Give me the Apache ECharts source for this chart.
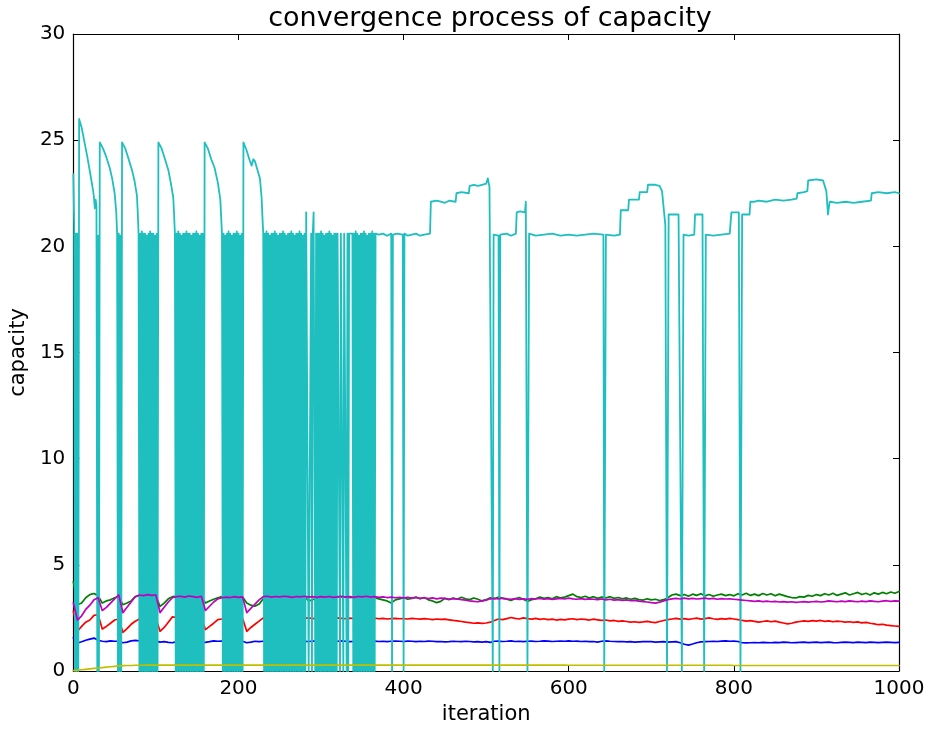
<!DOCTYPE html>
<html>
<head>
<meta charset="utf-8">
<script src="https://cdn.jsdelivr.net/npm/echarts@6/dist/echarts.min.js"></script>
<style>
html,body{margin:0;padding:0;background:#fff;}
#chart{width:930px;height:730px;}
</style>
</head>
<body>
<div id="chart"></div>
<script>
var titleText = 'convergence process of capacity';
var xName = 'iteration';
var yName = 'capacity';
var xTicks = [0, 200, 400, 600, 800, 1000];
var yTicks = [0, 5, 10, 15, 20, 25, 30];
var step = 5; // lower series sampled every 5 iterations, starting at 0

var blueVals = [
1.56,1.32,1.38,1.45,1.50,1.55,1.45,1.40,1.38,1.42,1.40,1.40,1.33,1.36,1.42,1.44,1.42,1.43,1.41,1.42,
1.42,1.36,1.38,1.35,1.33,1.38,1.37,1.39,1.38,1.37,1.38,1.36,1.35,1.38,1.42,1.40,1.41,1.40,1.42,1.40,
1.41,1.40,1.33,1.36,1.40,1.38,1.40,1.41,1.39,1.40,1.38,1.40,1.39,1.41,1.40,1.38,1.40,1.39,1.41,1.40,
1.38,1.40,1.41,1.39,1.40,1.42,1.40,1.38,1.39,1.41,1.40,1.38,1.40,1.41,1.39,1.40,1.38,1.40,1.41,1.40,
1.39,1.41,1.40,1.38,1.40,1.39,1.41,1.40,1.38,1.39,1.37,1.38,1.40,1.39,1.38,1.40,1.39,1.37,1.38,1.36,
1.38,1.35,1.40,1.41,1.39,1.40,1.42,1.39,1.40,1.38,1.40,1.41,1.39,1.40,1.42,1.41,1.39,1.40,1.41,1.40,
1.42,1.40,1.41,1.39,1.40,1.38,1.39,1.36,1.40,1.42,1.40,1.39,1.38,1.39,1.37,1.38,1.36,1.37,1.38,1.39,
1.38,1.36,1.37,1.38,1.36,1.37,1.38,1.33,1.26,1.22,1.27,1.33,1.37,1.38,1.39,1.40,1.39,1.41,1.42,1.40,
1.41,1.39,1.33,1.32,1.33,1.34,1.33,1.35,1.34,1.33,1.35,1.34,1.36,1.35,1.33,1.34,1.35,1.36,1.34,1.35,
1.36,1.34,1.35,1.36,1.34,1.33,1.35,1.36,1.35,1.34,1.36,1.35,1.34,1.36,1.35,1.34,1.35,1.36,1.35,1.34,
1.35];

var greenVals = [
4.20,3.12,3.20,3.45,3.60,3.65,3.55,3.20,3.30,3.35,3.45,3.50,3.12,3.20,3.30,3.50,3.55,3.54,3.56,3.55,
3.55,3.04,3.20,3.40,3.50,3.52,3.50,3.51,3.50,3.52,3.50,3.51,3.20,3.30,3.38,3.45,3.50,3.49,3.51,3.50,
3.50,3.48,3.20,3.10,3.05,3.15,3.40,3.48,3.50,3.49,3.50,3.51,3.50,3.49,3.50,3.48,3.50,3.30,3.35,3.45,
3.48,3.50,3.49,3.47,3.50,3.48,3.49,3.46,3.48,3.47,3.45,3.48,3.46,3.45,3.40,3.35,3.30,3.20,3.35,3.40,
3.45,3.38,3.42,3.48,3.40,3.46,3.35,3.30,3.22,3.28,3.42,3.36,3.44,3.38,3.47,3.40,3.36,3.44,3.38,3.30,
3.36,3.45,3.40,3.48,3.42,3.38,3.32,3.40,3.46,3.38,3.28,3.36,3.40,3.48,3.42,3.46,3.40,3.50,3.44,3.48,
3.55,3.62,3.50,3.46,3.52,3.44,3.50,3.42,3.48,3.44,3.50,3.42,3.46,3.40,3.44,3.38,3.42,3.36,3.34,3.40,
3.35,3.38,3.32,3.36,3.45,3.58,3.62,3.55,3.60,3.52,3.62,3.56,3.64,3.54,3.60,3.52,3.58,3.62,3.55,3.60,
3.54,3.64,3.58,3.66,3.56,3.62,3.55,3.65,3.58,3.64,3.54,3.62,3.56,3.50,3.46,3.44,3.50,3.48,3.56,3.52,
3.60,3.55,3.64,3.58,3.66,3.56,3.62,3.68,3.58,3.64,3.70,3.60,3.66,3.58,3.68,3.62,3.70,3.64,3.72,3.66,
3.74];

var redVals = [
2.81,1.87,2.10,2.30,2.40,2.62,2.65,1.98,2.10,2.25,2.40,2.45,1.82,2.00,2.20,2.34,2.45,2.46,2.48,2.47,
2.48,1.87,2.05,2.30,2.55,2.52,2.50,2.51,2.50,2.49,2.50,2.51,1.95,2.10,2.25,2.42,2.45,2.46,2.45,2.47,
2.46,2.47,1.87,2.05,2.20,2.35,2.50,2.48,2.50,2.49,2.50,2.48,2.50,2.51,2.49,2.50,2.48,2.50,2.47,2.49,
2.50,2.48,2.49,2.47,2.50,2.48,2.46,2.49,2.47,2.45,2.48,2.46,2.47,2.49,2.46,2.48,2.45,2.47,2.48,2.46,
2.47,2.45,2.48,2.46,2.44,2.47,2.45,2.42,2.45,2.43,2.44,2.41,2.38,2.36,2.33,2.30,2.28,2.25,2.27,2.24,
2.26,2.30,2.38,2.45,2.42,2.47,2.52,2.48,2.45,2.50,2.47,2.44,2.48,2.43,2.46,2.42,2.44,2.40,2.43,2.41,
2.44,2.46,2.42,2.45,2.43,2.40,2.44,2.41,2.38,2.40,2.36,2.38,2.34,2.36,2.33,2.30,2.32,2.29,2.31,2.34,
2.30,2.28,2.33,2.38,2.42,2.45,2.48,2.44,2.47,2.43,2.46,2.49,2.44,2.47,2.50,2.46,2.43,2.47,2.44,2.48,
2.45,2.42,2.38,2.35,2.37,2.34,2.30,2.33,2.36,2.32,2.35,2.30,2.26,2.22,2.25,2.30,2.33,2.36,2.34,2.37,
2.35,2.38,2.34,2.36,2.32,2.35,2.33,2.30,2.32,2.29,2.31,2.27,2.29,2.25,2.22,2.18,2.20,2.16,2.14,2.12,
2.10];

var magentaVals = [
3.20,2.40,2.60,2.90,3.10,3.35,3.45,2.85,3.00,3.20,3.40,3.58,2.75,3.00,3.25,3.50,3.58,3.55,3.60,3.56,
3.58,2.75,3.00,3.25,3.45,3.50,3.52,3.48,3.53,3.50,3.47,3.52,2.85,3.05,3.25,3.40,3.45,3.48,3.46,3.50,
3.47,3.49,2.75,2.95,3.15,3.35,3.50,3.52,3.48,3.51,3.49,3.52,3.50,3.47,3.51,3.49,3.52,3.48,3.50,3.47,
3.50,3.48,3.51,3.47,3.49,3.52,3.48,3.50,3.47,3.51,3.49,3.52,3.48,3.50,3.47,3.49,3.46,3.48,3.45,3.47,
3.44,3.47,3.43,3.46,3.42,3.45,3.41,3.44,3.40,3.43,3.42,3.38,3.41,3.39,3.36,3.34,3.30,3.28,3.26,3.30,
3.34,3.40,3.42,3.39,3.43,3.40,3.38,3.41,3.37,3.40,3.38,3.41,3.39,3.42,3.38,3.41,3.37,3.40,3.42,3.39,
3.43,3.40,3.38,3.41,3.37,3.40,3.38,3.36,3.39,3.35,3.38,3.34,3.36,3.33,3.35,3.31,3.33,3.29,3.27,3.25,
3.22,3.20,3.24,3.30,3.36,3.40,3.42,3.39,3.43,3.40,3.42,3.39,3.41,3.43,3.40,3.42,3.38,3.41,3.39,3.40,
3.38,3.36,3.34,3.32,3.30,3.28,3.30,3.27,3.29,3.26,3.28,3.25,3.27,3.24,3.26,3.23,3.25,3.27,3.24,3.26,
3.28,3.25,3.27,3.30,3.28,3.26,3.29,3.27,3.30,3.28,3.26,3.29,3.27,3.30,3.28,3.26,3.29,3.31,3.28,3.30,
3.29];

var yellowVals = [
0.02,0.04,0.06,0.08,0.10,0.12,0.14,0.16,0.18,0.20,0.22,0.24,0.25,0.26,0.26,0.27,0.27,0.27,0.28,0.28,
0.28,0.28,0.28,0.28,0.28,0.28,0.28,0.28,0.28,0.28,0.28,0.28,0.28,0.28,0.28,0.28,0.28,0.28,0.28,0.28,
0.28,0.28,0.28,0.28,0.28,0.28,0.28,0.28,0.28,0.28,0.28,0.28,0.28,0.28,0.28,0.28,0.28,0.28,0.28,0.28,
0.28,0.28,0.28,0.28,0.28,0.28,0.28,0.28,0.28,0.28,0.28,0.28,0.28,0.28,0.28,0.28,0.28,0.28,0.28,0.28,
0.28,0.28,0.28,0.28,0.28,0.28,0.28,0.28,0.28,0.28,0.28,0.28,0.28,0.28,0.28,0.28,0.28,0.28,0.28,0.28,
0.28,0.28,0.28,0.28,0.28,0.28,0.28,0.28,0.28,0.28,0.28,0.28,0.28,0.28,0.28,0.28,0.28,0.28,0.28,0.28,
0.27,0.27,0.27,0.27,0.27,0.27,0.27,0.27,0.27,0.27,0.27,0.27,0.27,0.27,0.27,0.27,0.27,0.27,0.27,0.27,
0.27,0.27,0.27,0.27,0.27,0.27,0.27,0.27,0.27,0.27,0.27,0.27,0.27,0.27,0.27,0.27,0.27,0.27,0.27,0.27,
0.26,0.26,0.26,0.26,0.26,0.26,0.26,0.26,0.26,0.26,0.26,0.26,0.26,0.26,0.26,0.26,0.26,0.26,0.26,0.26,
0.26,0.26,0.26,0.26,0.26,0.26,0.26,0.26,0.26,0.26,0.26,0.26,0.26,0.26,0.26,0.26,0.26,0.26,0.26,0.26,
0.26];

// cyan series: [iteration, capacity] points
var cyanPts = [
[0,23.4],[1,21.0],[2,0],[3,20.6],[4,0],[5,20.6],[6,0],[7,26.0],
[10,25.6],[13,25.0],[17,24.2],[21,23.3],[24,22.6],[25,22.3],[26,21.8],[27,22.2],[28,21.9],
[29,0],[30,20.5],[31,0],[32,24.9],
[36,24.6],[40,24.2],[44,23.7],[47,23.2],[50,22.5],[52,21.6],
[53,20.6],[54,0],[55,20.6],[56,0],[57,20.5],[58,0],[59,24.9],
[63,24.6],[67,24.1],[71,23.6],[74,23.1],[77,22.4],[78,21.6],
[79,20.6],[80,0],[81,20.6],[82,0],[83,20.7],[84,0],[85,20.6],[86,0],[87,20.6],[88,0],[89,20.5],[90,0],
[91,20.6],[92,0],[93,20.7],[94,0],[95,20.6],[96,0],[97,20.6],[98,0],[99,20.5],[100,0],[101,20.6],[102,0],[103,24.9],
[107,24.6],[111,24.1],[115,23.6],[118,23.0],[121,22.3],[122,21.5],
[123,20.6],[124,0],[125,20.6],[126,0],[127,20.7],[128,0],[129,20.6],[130,0],[131,20.5],[132,0],[133,20.6],[134,0],
[135,20.6],[136,0],[137,20.7],[138,0],[139,20.6],[140,0],[141,20.6],[142,0],[143,20.5],[144,0],[145,20.6],[146,0],
[147,20.6],[148,0],[149,20.7],[150,0],[151,20.6],[152,0],[153,20.5],[154,0],[155,20.6],[156,0],[157,20.6],[158,0],[159,24.9],
[163,24.6],[167,24.1],[171,23.7],[175,23.0],[178,22.2],[179,21.4],
[180,20.6],[181,0],[182,20.6],[183,0],[184,20.5],[185,0],[186,20.6],[187,0],[188,20.7],[189,0],[190,20.6],[191,0],
[192,20.5],[193,0],[194,20.6],[195,0],[196,20.6],[197,0],[198,20.7],[199,0],[200,20.6],[201,0],[202,20.5],[203,0],
[204,20.6],[205,0],[206,24.9],
[210,24.5],[214,24.0],[216,23.8],[218,24.1],[220,24.0],[223,23.6],[226,23.2],[228,22.3],[229,21.4],
[230,20.6],[231,0],[232,20.6],[233,0],[234,20.7],[235,0],[236,20.6],[237,0],[238,20.5],[239,0],[240,20.6],[241,0],
[242,20.6],[243,0],[244,20.7],[245,0],[246,20.6],[247,0],[248,20.5],[249,0],[250,20.6],[251,0],[252,20.6],[253,0],
[254,20.7],[255,0],[256,20.6],[257,0],[258,20.5],[259,0],[260,20.6],[261,0],[262,20.6],[263,0],[264,20.7],[265,0],
[266,20.6],[267,0],[268,20.5],[269,0],[270,20.6],[271,0],[272,20.6],[273,0],[274,20.7],[275,0],[276,20.6],[277,0],
[278,20.5],[279,0],[280,20.6],[281,0],[282,21.6],[284,21.6],[285,0],[287,0],[288,20.6],[289,0],[290,20.6],
[291,21.6],[292,21.6],[293,0],[294,20.6],[295,0],
[296,20.6],[297,0],[298,20.6],[299,0],[300,20.7],[301,0],[302,20.6],[303,0],[304,20.5],[305,0],[306,20.6],[307,0],
[308,20.6],[309,0],[310,20.7],[311,0],[312,20.6],[313,0],[314,20.5],[315,0],[316,20.6],[317,0],[318,20.6],[319,0],
[320,20.6],[322,20.6],[323,0],[324,20.6],[326,20.6],[327,0],[328,20.6],[330,20.6],[331,0],[332,20.6],[333,0],
[334,20.6],[338,20.6],[339,0],[340,20.6],[341,0],[342,20.7],[343,0],[344,20.6],[345,0],[346,20.5],[347,0],
[348,20.6],[349,0],[350,20.6],[351,0],[352,20.7],[353,0],[354,20.6],[355,0],[356,20.5],[357,0],[358,20.6],[359,0],
[360,20.6],[361,0],[362,20.7],[363,0],[364,20.6],[365,0],[366,20.6],
[370,20.55],[375,20.6],[380,20.5],[385,20.6],[386,0],[387,20.55],[392,20.6],[399,20.55],[400,0],[401,20.6],
[405,20.5],[410,20.55],[415,20.6],[420,20.5],[425,20.55],[432,20.6],[433,22.1],[440,22.15],[445,22.1],[450,22.05],
[455,22.15],[463,22.1],[464,22.5],[470,22.55],[479,22.5],[480,22.85],[485,22.9],[490,22.85],[495,22.9],[500,22.95],
[502,23.2],[504,22.8],[508,0],[509,20.55],[515,20.5],[516,0],[517,20.55],[525,20.6],[530,20.5],[536,20.6],
[537,21.6],[541,21.65],[547,21.6],[548,22.1],[550,0],[552,20.6],[560,20.5],[570,20.55],[580,20.6],[590,20.5],
[600,20.55],[610,20.5],[620,20.55],[630,20.6],[642,20.55],[643,0],[645,20.55],[655,20.5],[662,20.55],[663,21.7],
[672,21.7],[673,22.2],[685,22.2],[686,22.55],[695,22.55],[696,22.9],[705,22.9],[710,22.85],[713,22.6],[717,21.0],
[719,0],[721,21.5],[733,21.5],[735,21.45],[737,0],[739,20.55],[745,20.5],[752,20.55],[753,21.5],[762,21.5],
[764,0],[766,20.55],[775,20.5],[785,20.55],[795,20.6],[797,21.6],[806,21.6],[808,0],[810,21.5],[819,21.5],
[820,22.1],[825,22.1],[830,22.15],[840,22.1],[850,22.2],[860,22.15],[870,22.2],[876,22.25],[877,22.5],[885,22.55],
[889,22.6],[890,23.1],[900,23.15],[908,23.1],[912,22.6],[914,21.5],[916,22.1],[925,22.05],[935,22.1],[945,22.05],
[955,22.1],[966,22.15],[967,22.5],[975,22.55],[985,22.5],[995,22.55],[1000,22.5]
];

function toPairs(vals) {
  return vals.map(function (v, i) { return [i * step, v]; });
}

var chart = echarts.init(document.getElementById('chart'), null, {renderer: 'canvas'});
var font = 'DejaVu Sans';
var axisCommon = {
  type: 'value',
  axisLine: {show: true, onZero: false, lineStyle: {color: '#000', width: 1.2}},
  axisTick: {show: true, inside: true, length: 6, lineStyle: {color: '#000', width: 1}},
  splitLine: {show: false}
};
function lineSeries(name, color, data, z, width) {
  return {
    name: name, type: 'line', data: data, showSymbol: false, symbol: 'none',
    lineStyle: {color: color, width: width || 1.7, join: 'round', cap: 'round'},
    itemStyle: {color: color},
    sampling: null, animation: false, z: z, silent: true
  };
}
chart.setOption({
  backgroundColor: '#fff',
  animation: false,
  title: {
    text: titleText, left: 485, top: 0, textAlign: 'center',
    textStyle: {fontFamily: font, fontSize: 27, fontWeight: 'normal', color: '#000'}
  },
  grid: {left: 72, right: 31, top: 34, bottom: 55, containLabel: false},
  xAxis: [
    Object.assign({}, axisCommon, {
      position: 'bottom', min: xTicks[0], max: xTicks[xTicks.length - 1], interval: xTicks[1] - xTicks[0],
      name: xName, nameLocation: 'middle', nameGap: 33,
      nameTextStyle: {fontFamily: font, fontSize: 21, color: '#000'},
      axisLabel: {fontFamily: font, fontSize: 20, color: '#000', margin: 8,
        formatter: function (v) { return String(v); }}
    }),
    Object.assign({}, axisCommon, {
      position: 'top', min: xTicks[0], max: xTicks[xTicks.length - 1], interval: xTicks[1] - xTicks[0],
      axisLabel: {show: false}
    })
  ],
  yAxis: [
    Object.assign({}, axisCommon, {
      position: 'left', min: yTicks[0], max: yTicks[yTicks.length - 1], interval: yTicks[1] - yTicks[0],
      name: yName, nameLocation: 'middle', nameGap: 38, nameRotate: 90,
      nameTextStyle: {fontFamily: font, fontSize: 21, color: '#000'},
      axisLabel: {fontFamily: font, fontSize: 20, color: '#000', margin: 8,
        formatter: function (v) { return String(v); }}
    }),
    Object.assign({}, axisCommon, {
      position: 'right', min: yTicks[0], max: yTicks[yTicks.length - 1], interval: yTicks[1] - yTicks[0],
      axisLabel: {show: false}
    })
  ],
  series: [
    lineSeries('b', '#0000ff', toPairs(blueVals), 2),
    lineSeries('g', '#008000', toPairs(greenVals), 3),
    lineSeries('r', '#ff0000', toPairs(redVals), 4),
    lineSeries('c', '#1fbfbf', cyanPts, 5, 1.8),
    lineSeries('m', '#bf00bf', toPairs(magentaVals), 6),
    lineSeries('y', '#bfbf00', toPairs(yellowVals), 7)
  ]
});
</script>
</body>
</html>
